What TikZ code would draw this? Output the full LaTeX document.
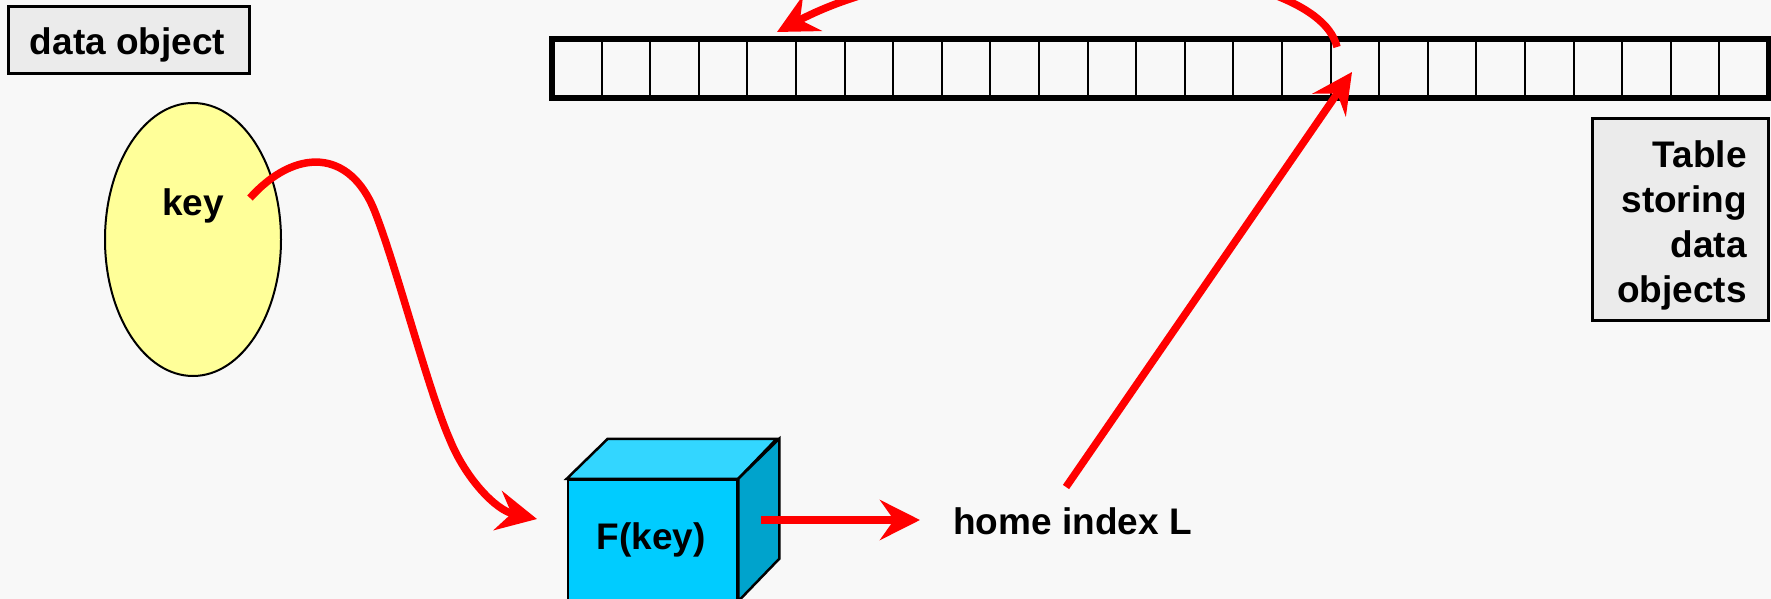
\documentclass[tikz,border=0pt]{standalone}
\usepackage{fontspec}
\setmainfont{Liberation Sans}
\usetikzlibrary{arrows.meta,shapes.geometric}
\definecolor{bg}{HTML}{F8F8F8}
\definecolor{boxgray}{HTML}{EBEBEB}
\definecolor{keyyellow}{HTML}{FFFF99}
\definecolor{cubefront}{HTML}{00CCFF}
\definecolor{cubetop}{HTML}{33D6FF}
\definecolor{cubeside}{HTML}{00A3CC}
\begin{document}
\begin{tikzpicture}[x=1pt,y=-1pt,
  lbl/.style={font=\fontsize{37}{45}\selectfont\bfseries, inner sep=0pt},
  graybox/.style={draw, line width=3pt, fill=boxgray, inner sep=0pt},
  cell/.style={draw, line width=2pt, minimum width=48.6pt, minimum height=57pt, inner sep=0pt},
  redarrow/.style={draw=red, line width=7.5pt, -{Stealth[length=40pt,width=40pt,inset=14pt]}},
  cubeedge/.style={draw=black, line width=2.5pt, line join=miter}]
\useasboundingbox (0,0) rectangle (1771,599);
\fill[bg] (0,0) rectangle (1771,599);
\begin{scope}
\clip (0,0) rectangle (1771,599);
% data object label box
\node[graybox, minimum width=241pt, minimum height=67pt] (dobox) at (128.5,40.5) {};
\node[lbl, anchor=base] (dotext) at (127.5,55) {data object};
% key ellipse
\node[ellipse, draw, line width=2pt, fill=keyyellow, minimum width=176pt, minimum height=273pt, inner sep=0pt] (ell) at (193,239.5) {};
\node[lbl, anchor=base] (key) at (193,215) {key};
% table of cells
\foreach \i in {1,...,25} {
  \node[cell] (c\i) at ({553+(\i-0.5)*48.6},68.5) {};
}
\draw[line width=6pt] (c1.north west) rectangle (c25.south east);
% table caption box
\node[graybox, minimum width=176pt, minimum height=201pt] (tbox) at (1680,219.5) {};
\node[lbl, align=right, anchor=north east] (ttext) at (1747,140) {Table\\storing\\data\\objects};
% cube
\node[cubeedge, fill=cubefront, minimum width=169pt, minimum height=120pt, inner sep=0pt] (cube) at (652.5,540) {};
\filldraw[cubeedge, fill=cubetop] (cube.north west) -- ++(41,-40) -- ++(169,0) -- (cube.north east) -- cycle;
\filldraw[cubeedge, fill=cubeside] (cube.north east) -- ++(41,-40) -- ++(0,120) -- (cube.south east) -- cycle;
\node[lbl, anchor=base] (fkey) at (651,549) {F(key)};
% home index
\node[lbl, anchor=base west] (home) at (953,534) {home index L};
% connectors
\coordinate (kstart) at (250,198);
\coordinate (kend) at (537,519);
\draw[redarrow] (kstart) .. controls (295,148) and (350,148) .. (375,212)
  .. controls (397,268) and (428,390) .. (450,440)
  .. controls (465,477) and (495,510) .. (kend);
\coordinate (cout) at (761,520);
\coordinate (hin) at (920,520);
\draw[redarrow] (cout) -- (hin);
\coordinate (hout) at (1066,487);
\coordinate (tin) at (1352,72);
\draw[redarrow] (hout) -- (tin);
\coordinate (tout) at (1337,47);
\coordinate (tback) at (777,32);
\draw[redarrow] (tout) .. controls (1315,-45) and (960,-65) .. (tback);
\end{scope}
\end{tikzpicture}
\end{document}
